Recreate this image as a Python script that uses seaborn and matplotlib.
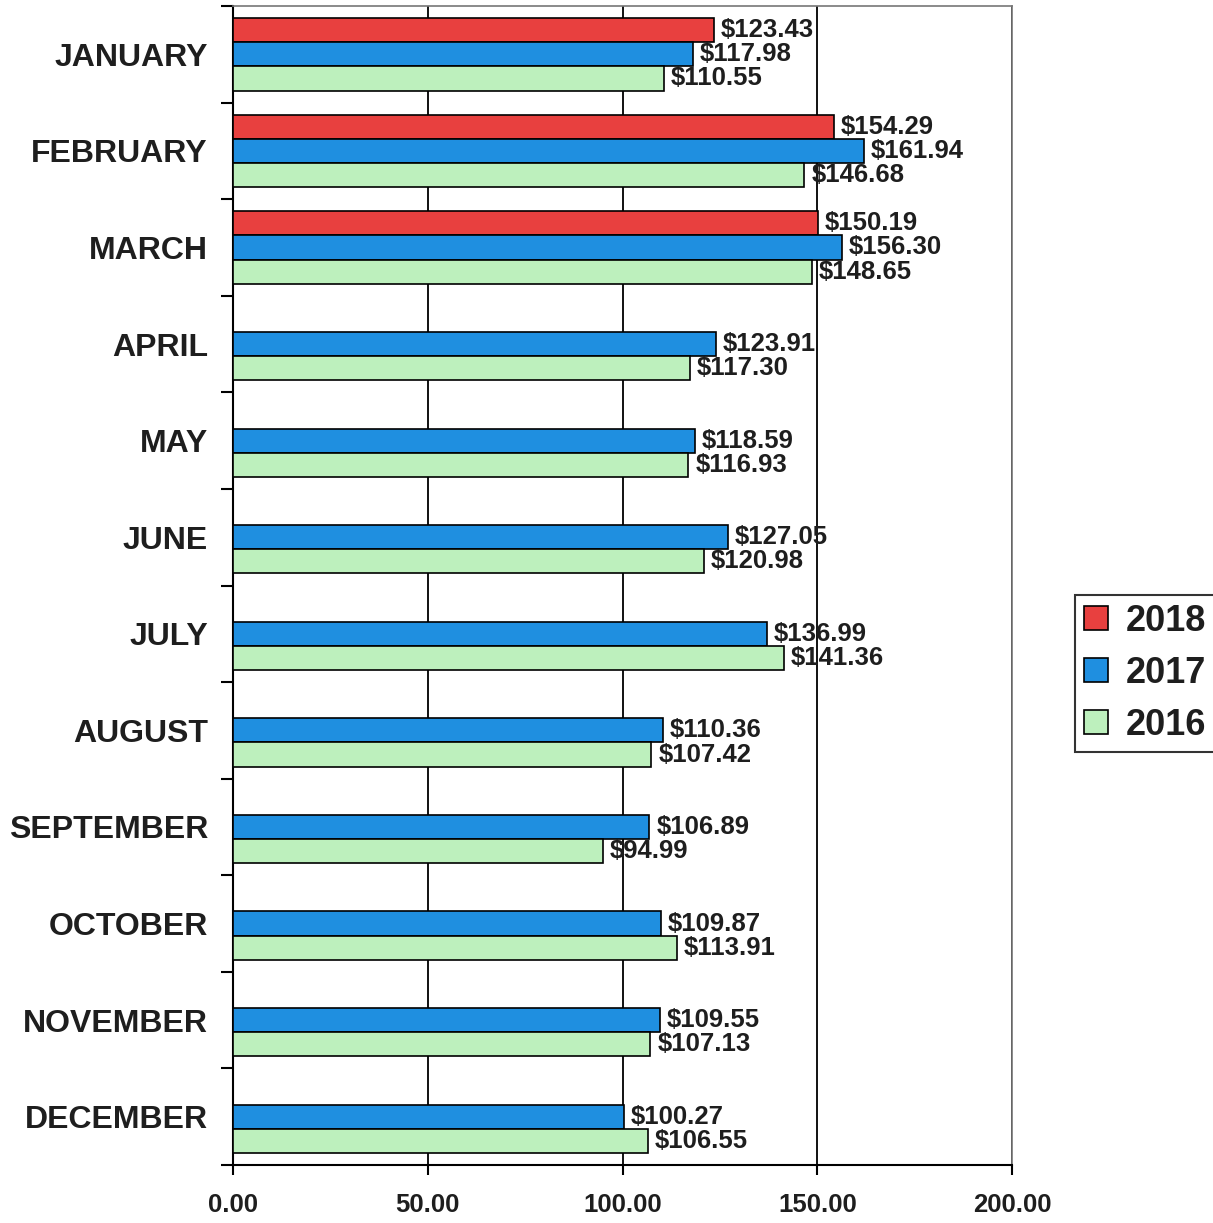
import matplotlib
matplotlib.use("Agg")
import matplotlib.pyplot as plt
import numpy as np
import pandas as pd
import seaborn as sns

months = ["JANUARY", "FEBRUARY", "MARCH", "APRIL", "MAY", "JUNE", "JULY",
          "AUGUST", "SEPTEMBER", "OCTOBER", "NOVEMBER", "DECEMBER"]
years = ["2018", "2017", "2016"]
v2018 = [123.43, 154.29, 150.19] + [np.nan] * 9
v2017 = [117.98, 161.94, 156.30, 123.91, 118.59, 127.05, 136.99,
         110.36, 106.89, 109.87, 109.55, 100.27]
v2016 = [110.55, 146.68, 148.65, 117.30, 116.93, 120.98, 141.36,
         107.42, 94.99, 113.91, 107.13, 106.55]
colors = ["#e8403f", "#1f8fe0", "#bdf0bd"]

df = pd.DataFrame({
    "month": months * 3,
    "year": [y for y in years for _ in months],
    "value": v2018 + v2017 + v2016,
})

sns.set_style("white")
plt.rcParams["font.family"] = ["Liberation Sans", "DejaVu Sans"]
plt.rcParams["font.weight"] = "bold"
txt = "#1e1e1e"

fig = plt.figure(figsize=(12.13, 12.23), dpi=100)
ax = fig.add_axes([233 / 1213, 1 - 1165 / 1223, 779 / 1213, 1159 / 1223])

sns.barplot(data=df, y="month", x="value", hue="year", order=months,
            hue_order=years, palette=colors, orient="h", width=0.75,
            errorbar=None, edgecolor="black", linewidth=1.2, saturation=1,
            ax=ax, zorder=3)

for c in ax.containers:
    labels = [f"${w:.2f}" if np.isfinite(w) else "" for w in c.datavalues]
    ax.bar_label(c, labels=labels, padding=5, fontsize=18.5,
                 fontweight="bold", color=txt)

ax.set_xlim(0, 200)
ax.set_ylim(11.5, -0.5)
ax.set_xticks([0, 50, 100, 150, 200])
ax.set_xticklabels([f"{t:.2f}" for t in [0, 50, 100, 150, 200]])
ax.set_yticks(np.arange(-0.5, 12, 1), minor=True)
ax.tick_params(axis="y", which="major", length=0, pad=18,
               labelsize=23, labelcolor=txt)
ax.tick_params(axis="y", which="minor", length=8.5, width=1.5,
               color="black", left=True)
ax.tick_params(axis="x", length=7, width=1.5, color="black", bottom=True,
               pad=13, labelsize=18.5, labelcolor=txt)
for lab in ax.get_xticklabels() + ax.get_yticklabels():
    lab.set_fontweight("bold")

ax.xaxis.grid(True, color="#111111", linewidth=1.4, zorder=0)
ax.set_axisbelow(True)
ax.set_xlabel("")
ax.set_ylabel("")

for side in ["left", "bottom"]:
    ax.spines[side].set_color("black")
    ax.spines[side].set_linewidth(1.5)
for side in ["top", "right"]:
    ax.spines[side].set_color("#777777")
    ax.spines[side].set_linewidth(1.2)

handles, _ = ax.get_legend_handles_labels()
ax.legend_.remove()
leg = fig.legend(handles, years, loc="upper left",
                 bbox_to_anchor=(1075 / 1213, 1 - 595 / 1223),
                 frameon=True, fancybox=False, edgecolor="black",
                 prop={"size": 26, "weight": "bold"}, handlelength=0.65,
                 handleheight=0.65, handletextpad=0.5, labelspacing=0.47,
                 borderpad=0.25, borderaxespad=0)
leg.get_frame().set_linewidth(1.5)
for t in leg.get_texts():
    t.set_color(txt)

fig.savefig("out.png", dpi=100)
